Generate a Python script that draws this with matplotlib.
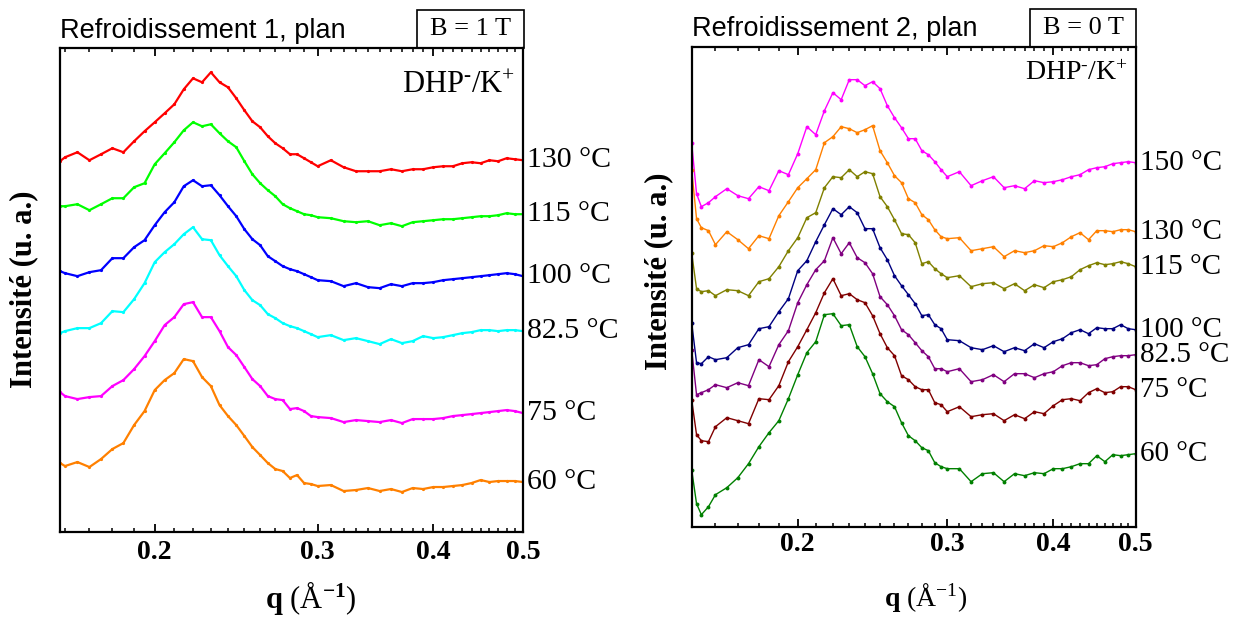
import matplotlib
matplotlib.use('Agg')
import matplotlib.pyplot as plt
from matplotlib.ticker import NullFormatter
from matplotlib.patches import Rectangle

plt.rcParams['font.family'] = ['Liberation Serif', 'DejaVu Serif']
plt.rcParams['mathtext.fontset'] = 'custom'
plt.rcParams['mathtext.rm'] = 'Liberation Serif'
plt.rcParams['mathtext.bf'] = 'Liberation Serif:bold'
plt.rcParams['mathtext.it'] = 'Liberation Serif:italic'

# ---- data (intensity in arbitrary units, offset curves) ----
q_left = [0.158, 0.160, 0.165, 0.170, 0.175, 0.180, 0.185, 0.190, 0.195, 0.200,
          0.205, 0.210, 0.215, 0.220, 0.225, 0.230, 0.235, 0.240, 0.245, 0.250,
          0.255, 0.260, 0.265, 0.270, 0.275, 0.280, 0.285, 0.290, 0.295, 0.300,
          0.31, 0.32, 0.33, 0.34, 0.35, 0.36, 0.37, 0.38, 0.39, 0.40,
          0.41, 0.42, 0.43, 0.44, 0.45, 0.46, 0.47, 0.48, 0.49, 0.50]

left_130 = [371, 375, 380, 372, 378, 384, 380, 391, 401, 410, 419, 428, 443, 454, 450, 460, 450, 445, 434, 422,
            411, 405, 396, 389, 384, 378, 378, 374, 370, 366, 372, 365, 361, 361, 361, 363, 361, 363, 363, 365,
            366, 366, 369, 370, 369, 372, 371, 374, 373, 372]
left_115 = [326, 326, 328, 322, 328, 334, 334, 345, 349, 368, 379, 390, 402, 410, 406, 408, 399, 391, 385, 371,
            358, 349, 342, 336, 328, 324, 321, 318, 317, 315, 314, 311, 310, 311, 307, 309, 306, 310, 311, 312,
            313, 313, 314, 315, 316, 316, 317, 319, 318, 318]
left_100 = [261, 259, 256, 260, 262, 274, 274, 285, 292, 307, 320, 330, 346, 352, 346, 347, 337, 326, 316, 303,
            293, 287, 276, 271, 266, 263, 261, 258, 255, 252, 251, 246, 249, 245, 244, 248, 246, 249, 249, 250,
            252, 253, 254, 255, 256, 257, 258, 259, 258, 256]
left_825 = [199, 201, 204, 204, 209, 221, 220, 233, 249, 270, 280, 288, 298, 305, 293, 292, 277, 266, 256, 242,
            232, 227, 218, 214, 209, 206, 204, 201, 198, 195, 197, 192, 194, 191, 188, 193, 189, 191, 196, 194,
            195, 197, 199, 200, 202, 202, 201, 202, 202, 201]
left_75 = [140, 136, 133, 135, 136, 146, 152, 163, 176, 191, 207, 215, 228, 230, 215, 215, 201, 185, 177, 165,
           153, 146, 136, 133, 132, 123, 124, 121, 116, 115, 114, 110, 112, 111, 110, 112, 109, 113, 113, 113,
           114, 116, 117, 118, 119, 120, 121, 122, 121, 119]
left_60 = [69, 66, 70, 65, 73, 83, 89, 107, 121, 142, 152, 159, 173, 171, 155, 146, 127, 116, 107, 96,
           85, 77, 69, 63, 61, 54, 57, 49, 48, 46, 47, 41, 42, 44, 41, 43, 40, 44, 43, 45,
           45, 46, 47, 49, 52, 50, 51, 51, 51, 50]

q_right = [0.150, 0.152, 0.154, 0.157,
           0.160, 0.165, 0.170, 0.175, 0.180, 0.185, 0.190, 0.195, 0.200,
           0.205, 0.210, 0.215, 0.220, 0.225, 0.230, 0.235, 0.240, 0.245, 0.250,
           0.255, 0.260, 0.265, 0.270, 0.275, 0.280, 0.285, 0.290, 0.295, 0.300,
           0.31, 0.32, 0.33, 0.34, 0.35, 0.36, 0.37, 0.38, 0.39, 0.40,
           0.41, 0.42, 0.43, 0.44, 0.45, 0.46, 0.47, 0.48, 0.49, 0.50]

right_150 = [384, 333, 320, 324, 330, 338, 331, 328, 340, 336, 356, 352, 373, 400, 392, 416, 434, 427, 447, 447,
             441, 445, 438, 421, 409, 399, 388, 388, 376, 372, 365, 357, 350, 355, 341, 346, 350, 339, 341, 338,
             346, 344, 345, 347, 350, 352, 357, 359, 360, 363, 364, 365, 364]
right_130 = [357, 308, 299, 296, 282, 295, 287, 278, 291, 288, 311, 325, 339, 348, 357, 384, 390, 400, 398, 394,
             397, 401, 376, 364, 351, 344, 328, 324, 312, 307, 297, 290, 288, 289, 276, 278, 280, 270, 276, 274,
             276, 281, 280, 284, 290, 294, 287, 296, 296, 295, 297, 297, 295]
right_115 = [274, 238, 235, 236, 231, 237, 236, 231, 245, 248, 260, 276, 289, 309, 314, 339, 350, 349, 357, 350,
             355, 353, 330, 320, 307, 293, 292, 284, 263, 265, 258, 253, 249, 251, 240, 243, 244, 238, 243, 236,
             242, 239, 245, 247, 250, 257, 261, 264, 262, 263, 265, 263, 260]
right_100 = [204, 164, 163, 170, 167, 169, 179, 182, 198, 200, 215, 228, 256, 266, 285, 302, 318, 312, 320, 314,
             298, 298, 279, 267, 251, 241, 232, 223, 211, 212, 202, 198, 187, 186, 179, 177, 181, 175, 179, 176,
             183, 179, 185, 188, 194, 197, 193, 199, 198, 198, 202, 198, 197]
right_825 = [177, 132, 134, 137, 142, 139, 144, 141, 167, 160, 182, 196, 224, 242, 257, 266, 289, 273, 284, 269,
             264, 253, 230, 222, 211, 197, 192, 184, 176, 170, 158, 158, 155, 158, 145, 147, 152, 145, 153, 153,
             149, 153, 155, 161, 164, 164, 161, 162, 168, 170, 171, 171, 172]
right_75 = [127, 92, 86, 85, 100, 109, 106, 103, 128, 127, 141, 165, 180, 197, 214, 234, 248, 231, 233, 227,
            224, 211, 193, 179, 171, 151, 147, 140, 137, 137, 124, 122, 115, 120, 110, 112, 113, 106, 112, 108,
            115, 113, 121, 127, 128, 126, 134, 138, 134, 135, 140, 140, 137]
right_60 = [57, 23, 12, 20, 32, 39, 49, 63, 80, 94, 106, 128, 152, 174, 185, 212, 213, 201, 202, 180,
            170, 153, 133, 125, 120, 104, 91, 86, 79, 76, 64, 60, 58, 58, 45, 53, 54, 45, 53, 51,
            54, 53, 58, 58, 60, 63, 63, 71, 65, 72, 71, 72, 73]

left_labels = ['130 °C', '115 °C', '100 °C', '82.5 °C', '75 °C', '60 °C']
left_colors = ['#ff0000', '#00ff00', '#0000ff', '#00ffff', '#ff00ff', '#ff8000']
right_labels = ['150 °C', '130 °C', '115 °C', '100 °C', '82.5 °C', '75 °C', '60 °C']
right_colors = ['#ff00ff', '#ff8000', '#808000', '#000080', '#800080', '#800000', '#008000']

major_ticks = [0.2, 0.3, 0.4, 0.5]
major_labels = ['0.2', '0.3', '0.4', '0.5']
minor_ticks = [0.15, 0.16, 0.17, 0.18, 0.19, 0.21, 0.22, 0.23, 0.24, 0.25, 0.26, 0.27, 0.28, 0.29,
               0.31, 0.32, 0.33, 0.34, 0.35, 0.36, 0.37, 0.38, 0.39,
               0.41, 0.42, 0.43, 0.44, 0.45, 0.46, 0.47, 0.48, 0.49]


def setup_axes(ax, xmin, ymax, tick_pad):
    ax.set_xscale('log')
    ax.set_xlim(xmin, 0.5)
    ax.set_ylim(0, ymax)
    ax.set_xticks(major_ticks, major_labels, fontweight='bold')
    ax.set_xticks([t for t in minor_ticks if t > xmin], minor=True)
    ax.xaxis.set_minor_formatter(NullFormatter())
    ax.set_yticks([])
    ax.tick_params(axis='x', which='major', direction='in', length=6, width=1.3,
                   top=True, labelsize=20, pad=tick_pad)
    ax.tick_params(axis='x', which='minor', direction='in', length=3, width=1.1, top=True)
    for s in ax.spines.values():
        s.set_linewidth(1.6)


fig = plt.figure(figsize=(12.34, 6.25), dpi=100)

# ---- left panel ----
ax1 = fig.add_axes([0.0486, 0.1488, 0.3752, 0.7739])
setup_axes(ax1, 0.158, 484, 6)
left_series = [left_130, left_115, left_100, left_825, left_75, left_60]
for vals, col, lab in zip(left_series, left_colors, left_labels):
    ax1.plot(q_left, vals, color=col, lw=1.6, marker='o', ms=2.3, mew=0)
    ax1.annotate(lab, xy=(1, vals[-1]), xycoords=('axes fraction', 'data'),
                 xytext=(3, 0), textcoords='offset points', ha='left', va='center',
                 fontsize=21.5, annotation_clip=False)

ax1.set_xlabel(r'$\mathbf{q}$ (Å$^{\mathbf{-1}}$)', fontsize=22)
ax1.xaxis.set_label_coords(0.542, -0.098)
ax1.set_ylabel('Intensité (u. a.)', fontsize=22, fontweight='bold')
ax1.yaxis.set_label_coords(-0.0475, 0.502)
ax1.annotate('Refroidissement 1, plan', xy=(0, 1), xycoords='axes fraction',
             xytext=(0, 7.4), textcoords='offset points', ha='left', va='baseline',
             fontsize=19.5, family='Liberation Sans')
ax1.add_patch(Rectangle((0.772, 1.0), 0.231, 0.0786, transform=ax1.transAxes,
                        fill=False, lw=1.2, edgecolor='black', clip_on=False))
ax1.text(0.8875, 1.039, 'B = 1 T', transform=ax1.transAxes, ha='center', va='center', fontsize=19)
ax1.text(0.982, 0.908, r'DHP$^{\text{-}}$/K$^{+}$', transform=ax1.transAxes,
         ha='right', va='baseline', fontsize=22)

# ---- right panel ----
ax2 = fig.add_axes([0.5605, 0.1573, 0.3598, 0.768])
setup_axes(ax2, 0.150, 480, 4)
right_series = [right_150, right_130, right_115, right_100, right_825, right_75, right_60]
for vals, col, lab in zip(right_series, right_colors, right_labels):
    ax2.plot(q_right, vals, color=col, lw=1.0, marker='o', ms=2.8, mew=0)
    ax2.annotate(lab, xy=(1, vals[-1]), xycoords=('axes fraction', 'data'),
                 xytext=(3, 0), textcoords='offset points', ha='left', va='center',
                 fontsize=21, annotation_clip=False)

ax2.set_xlabel(r'$\mathbf{q}$ (Å$^{-1}$)', fontsize=20)
ax2.xaxis.set_label_coords(0.528, -0.113)
ax2.set_ylabel('Intensité (u. a.)', fontsize=22, fontweight='bold')
ax2.yaxis.set_label_coords(-0.042, 0.532)
ax2.annotate('Refroidissement 2, plan', xy=(0, 1), xycoords='axes fraction',
             xytext=(0, 7.4), textcoords='offset points', ha='left', va='baseline',
             fontsize=19.5, family='Liberation Sans')
ax2.add_patch(Rectangle((0.763, 1.0), 0.237, 0.078, transform=ax2.transAxes,
                        fill=False, lw=1.2, edgecolor='black', clip_on=False))
ax2.text(0.8815, 1.039, 'B = 0 T', transform=ax2.transAxes, ha='center', va='center', fontsize=19)
ax2.text(0.982, 0.931, r'DHP$^{\text{-}}$/K$^{+}$', transform=ax2.transAxes,
         ha='right', va='baseline', fontsize=20)

fig.savefig('out.png', dpi=100)
